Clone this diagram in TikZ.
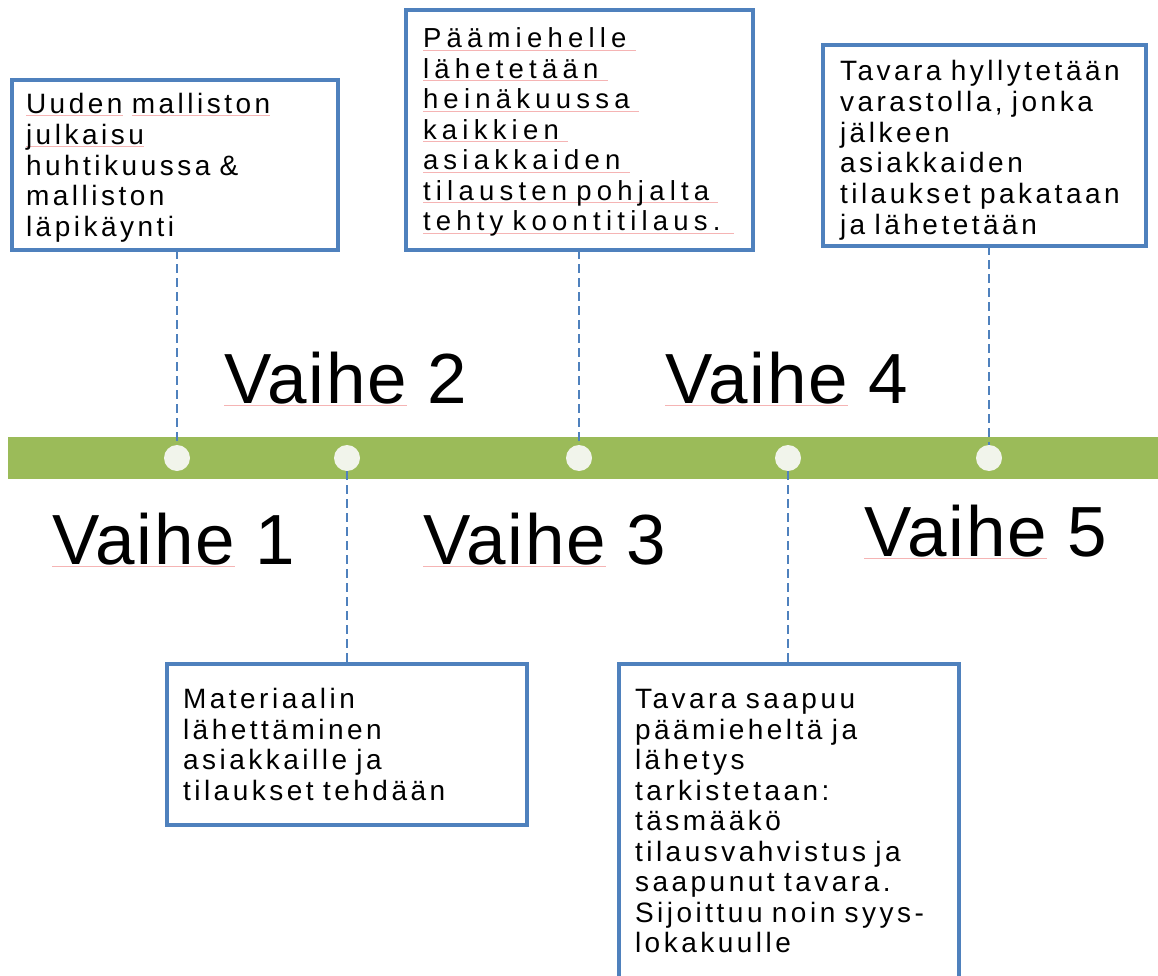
\documentclass[tikz,border=0pt]{standalone}
\usepackage{fontspec}
\setmainfont{Liberation Sans}
\newfontfamily\laatikkofontti[LetterSpace=12.5]{Liberation Sans}
\newfontfamily\leveafontti[LetterSpace=19]{Liberation Sans}
\newfontfamily\vaihefontti[LetterSpace=2.2]{Liberation Sans}
\usetikzlibrary{positioning}
\definecolor{sininen}{RGB}{79,129,189}
\definecolor{vihrea}{RGB}{155,187,89}
\definecolor{vaalea}{RGB}{241,244,235}
\definecolor{oikoluku}{RGB}{245,180,180}
\newcommand\oiko[1]{\leavevmode\setbox0=\hbox{#1}\rlap{\textcolor{oikoluku}{\rule[-3pt]{\wd0}{1pt}}}\box0\relax}
\tikzset{
    laatikko/.style={draw=sininen, line width=4pt, fill=white, anchor=north west, outer sep=0pt,
        align=left, inner ysep=0pt, font=\laatikkofontti\fontsize{28}{30.8}\selectfont},
    vaihe/.style={anchor=base west, inner sep=0pt, font=\vaihefontti\fontsize{71}{80}\selectfont},
    pallo/.style={circle, fill=vaalea, minimum size=26pt, inner sep=0pt},
    katko/.style={draw=sininen, line width=2.2pt, dash pattern=on 9pt off 5pt},
}

\begin{document}
\begin{tikzpicture}[x=1pt, y=-1pt]
\clip (0,0) rectangle (1158,976);
% aikajana
\fill[vihrea] (8,437) rectangle (1158,479);
\node[pallo] (p1) at (177,458) {};
\node[pallo] (p2) at (347,458) {};
\node[pallo] (p3) at (579,458) {};
\node[pallo] (p4) at (788,458) {};
\node[pallo] (p5) at (989,458) {};
% vaiheet
\node[vaihe] (v1) at (52,564) {\oiko{Vaihe} 1};
\node[vaihe] (v2) at (224,403) {\oiko{Vaihe} 2};
\node[vaihe] (v3) at (423,564) {\oiko{Vaihe} 3};
\node[vaihe] (v4) at (665,403) {\oiko{Vaihe} 4};
\node[vaihe] (v5) at (864,556) {\oiko{Vaihe} 5};
% laatikot
\node[laatikko, minimum width=326pt, minimum height=170pt, inner xsep=14pt, text width=298pt] (l1) at (12,80)
    {\rule{0pt}{26pt}\oiko{Uuden} \oiko{malliston}\\\oiko{julkaisu}\\huhtikuussa \&\\malliston\\läpikäynti};
\node[laatikko, minimum width=347pt, minimum height=240pt, inner xsep=17pt, text width=313pt,
    font=\leveafontti\fontsize{27.5}{30.5}\selectfont] (l2) at (406,10)
    {\rule{0pt}{24pt}\oiko{Päämiehelle }\\\oiko{lähetetään }\\\oiko{heinäkuussa }\\\oiko{kaikkien }\\\oiko{asiakkaiden }\\\oiko{tilausten pohjalta }\\\oiko{tehty koontitilaus. }};
\node[laatikko, minimum width=323pt, minimum height=201pt, inner xsep=17pt, text width=289pt] (l3) at (823,45)
    {\rule{0pt}{30pt}Tavara hyllytetään\\varastolla, jonka\\jälkeen\\asiakkaiden\\tilaukset pakataan\\ja lähetetään};
\node[laatikko, minimum width=360pt, minimum height=161pt, inner xsep=16pt, text width=328pt] (l4) at (167,664)
    {Materiaalin\\lähettäminen\\asiakkaille ja\\tilaukset tehdään};
\node[laatikko, minimum width=340pt, minimum height=321pt, inner xsep=16pt, text width=308pt,
    font=\laatikkofontti\fontsize{28}{30.5}\selectfont] (l5) at (619,664)
    {Tavara saapuu\\päämieheltä ja\\lähetys\\tarkistetaan:\\täsmääkö\\tilausvahvistus ja\\saapunut tavara.\\Sijoittuu noin syys-\\lokakuulle\rule[-7pt]{0pt}{7pt}};
% katkoviivat
\draw[katko] (l1.south -| p1) -- (p1.north);
\draw[katko] (p2.south) -- (l4.north -| p2);
\draw[katko] (l2.south -| p3) -- (p3.north);
\draw[katko] (p4.south) -- (l5.north -| p4);
\draw[katko] (l3.south -| p5) -- (p5.north);
\end{tikzpicture}
\end{document}
